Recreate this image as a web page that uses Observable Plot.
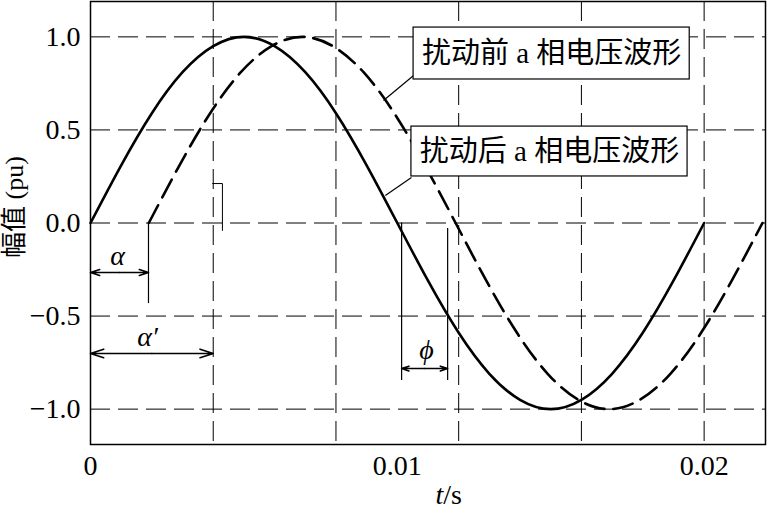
<!DOCTYPE html>
<html><head><meta charset="utf-8">
<script src="https://cdn.jsdelivr.net/npm/d3@7"></script>
<script src="https://cdn.jsdelivr.net/npm/@observablehq/plot@0.6"></script>
<style>
body{margin:0;background:#fff}
svg{display:block}
#chart svg{font-family:"Liberation Serif",serif !important;}
</style>
</head><body><div id="chart"></div>
<script>
// Solid curve
const tSolid = [0,0.001,0.002,0.003,0.004,0.005,0.006,0.007,0.008,0.009,0.010,0.011,0.012,0.013,0.014,0.015,0.016,0.017,0.018,0.019,0.020];
const vSolid = [0,0.31,0.59,0.81,0.95,1.0,0.95,0.81,0.59,0.31,0,-0.31,-0.59,-0.81,-0.95,-1.0,-0.95,-0.81,-0.59,-0.31,0];
// Dashed curve
const tDashed = [0.0019,0.0029,0.0039,0.0049,0.0059,0.0069,0.0079,0.0089,0.0099,0.0109,0.0119,0.0129,0.0139,0.0149,0.0159,0.0169,0.0179,0.0189,0.0199,0.0209,0.0219];
const vDashed = [0,0.31,0.59,0.81,0.95,1.0,0.95,0.81,0.59,0.31,0,-0.31,-0.59,-0.81,-0.95,-1.0,-0.95,-0.81,-0.59,-0.31,0];
const xTicks = [0, 0.01, 0.02];
const xGrid = [0.004, 0.008, 0.012, 0.016, 0.02];
const yTicks = [-1, -0.5, 0, 0.5, 1];
const boxLabels = ["扰动前 a 相电压波形", "扰动后 a 相电压波形"];
const yLabel = "幅值 (pu)";

const solid = tSolid.map((t, i) => ({t, v: vSolid[i]}));
const dashed = tDashed.map((t, i) => ({t, v: vDashed[i]}));

const boxes = [
  {x1: 0.01053, x2: 0.01953, y1: 0.771, y2: 1.050, cx: 0.01503, cy: 0.911, label: boxLabels[0]},
  {x1: 0.01046, x2: 0.01946, y1: 0.250, y2: 0.518, cx: 0.01496, cy: 0.384, label: boxLabels[1]}
];
const leaders = [
  {x1: 0.01053, y1: 0.792, x2: 0.00955, y2: 0.658},
  {x1: 0.01046, y1: 0.244, x2: 0.00961, y2: 0.148}
];
const bracket = [{t: 0.00398, v: 0.212}, {t: 0.0043, v: 0.212}, {t: 0.0043, v: -0.04}];
const vLines = [
  {x: 0.00189, y1: 0, y2: -0.433},
  {x: 0.01014, y1: 0, y2: -0.846},
  {x: 0.01164, y1: -0.03, y2: -0.846}
];
const dbl = [
  {a: 0, b: 0.00189, y: -0.266},
  {a: 0, b: 0.004, y: -0.701},
  {a: 0.01014, b: 0.01164, y: -0.782}
];
const arrows = dbl.flatMap(d => [
  {x1: (d.a + d.b) / 2, x2: d.a, y: d.y},
  {x1: (d.a + d.b) / 2, x2: d.b, y: d.y}
]);
const greek = [
  {t: 0.00088, v: -0.175, s: "α"},
  {t: 0.00186, v: -0.615, s: "α′"},
  {t: 0.01095, v: -0.683, s: "ϕ"}
];

const mixFont = "'Liberation Serif', 'Noto Sans CJK SC', serif";

const chart = Plot.plot({
  width: 768, height: 520,
  marginLeft: 90, marginRight: 3, marginTop: 1, marginBottom: 76,
  style: {background: "white", color: "black"},
  x: {domain: [0, 0.022], axis: null},
  y: {domain: [-1.19, 1.19], axis: null},
  marks: [
    Plot.ruleX(xGrid, {stroke: "black", strokeWidth: 1, strokeDasharray: "20,8"}),
    Plot.ruleY(yTicks, {stroke: "black", strokeWidth: 1, strokeDasharray: "20,8"}),
    Plot.line(solid, {x: "t", y: "v", curve: "natural", stroke: "black", strokeWidth: 2.6}),
    Plot.line(dashed, {x: "t", y: "v", curve: "natural", stroke: "black", strokeWidth: 2.6, strokeDasharray: "20,9"}),
    Plot.link(leaders, {x1: "x1", y1: "y1", x2: "x2", y2: "y2", stroke: "black", strokeWidth: 1.2}),
    Plot.rect(boxes, {x1: "x1", x2: "x2", y1: "y1", y2: "y2", fill: "white", stroke: "black", strokeWidth: 1.2}),
    Plot.text(boxes, {x: "cx", y: "cy", text: "label", fontSize: 29, fontFamily: mixFont, fill: "black"}),
    Plot.line(bracket, {x: "t", y: "v", stroke: "black", strokeWidth: 1}),
    Plot.ruleX(vLines, {x: "x", y1: "y1", y2: "y2", stroke: "black", strokeWidth: 1.2}),
    Plot.arrow(arrows, {x1: "x1", x2: "x2", y1: "y", y2: "y", stroke: "black", strokeWidth: 1.6, headLength: 13, headAngle: 36}),
    Plot.text(greek, {x: "t", y: "v", text: "s", fontSize: 28, fontStyle: "italic", fontFamily: "'Liberation Serif', serif", fill: "black"}),
    Plot.frame({stroke: "black", strokeWidth: 1.5}),
    Plot.axisX(xTicks, {tickSize: 0, tickPadding: 11, fontSize: 28, label: null,
      tickFormat: d => d === 0 ? "0" : d3.format(".2f")(d)}),
    Plot.axisY(yTicks, {tickSize: 0, tickPadding: 10, fontSize: 28, label: null,
      tickFormat: d3.format(".1f")}),
    Plot.text([yLabel], {frameAnchor: "left", textAnchor: "middle", dx: -76, dy: -16, rotate: -90, fontSize: 26,
      fontFamily: mixFont, fill: "black"}),
    Plot.text(["t"], {x: [0.0115], frameAnchor: "bottom", dy: 59, textAnchor: "end", fontSize: 28, fontStyle: "italic", fontFamily: "'Liberation Serif', serif", fill: "black"}),
    Plot.text(["/s"], {x: [0.0115], frameAnchor: "bottom", dy: 59, textAnchor: "start", fontSize: 28, fontFamily: "'Liberation Serif', serif", fill: "black"})
  ]
});
document.getElementById("chart").append(chart);
</script>
</body></html>
